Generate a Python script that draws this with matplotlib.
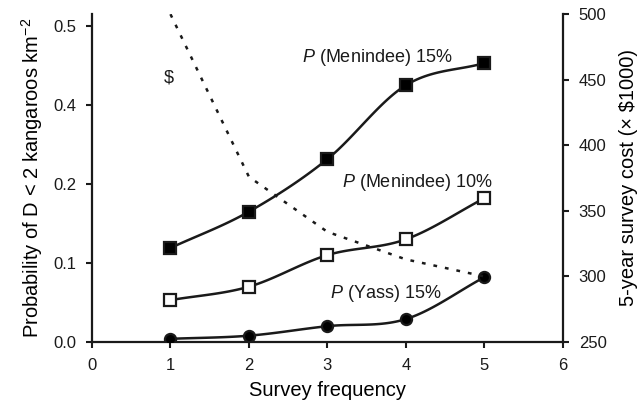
import numpy as np
import matplotlib
matplotlib.use("Agg")
import matplotlib.pyplot as plt

plt.rcParams['font.family'] = ['Liberation Sans', 'DejaVu Sans']
plt.rcParams['mathtext.fontset'] = 'custom'
plt.rcParams['mathtext.rm'] = 'Liberation Sans'
plt.rcParams['mathtext.it'] = 'Liberation Sans:italic'

# ---- data ----
survey_freq = [1, 2, 3, 4, 5]
p_menindee_15 = [0.119, 0.165, 0.263, 0.425, 0.453]
p_menindee_10 = [0.053, 0.070, 0.110, 0.130, 0.182]
p_yass_15 = [0.004, 0.008, 0.020, 0.029, 0.082]
cost = [500, 376, 334, 313, 300]

left_ticks = [0.0, 0.1, 0.2, 0.4, 0.5]
left_tick_labels = ["0.0", "0.1", "0.2", "0.4", "0.5"]
right_ticks = [250, 300, 350, 400, 450, 500]
x_ticks = [0, 1, 2, 3, 4, 5, 6]

# piecewise-linear left scale: tick labels equally spaced as in the original figure
_bv = np.array([-1.0] + left_ticks + [1.0])
_bp = np.array([-10.0, 0, 1, 2, 3, 4, 9])


def fwd(v):
    return np.interp(v, _bv, _bp)


def inv(p):
    return np.interp(p, _bp, _bv)


def smooth(x, y, n=30):
    x = np.asarray(x, float)
    y = np.asarray(y, float)
    m = np.zeros_like(y)
    m[1:-1] = (y[2:] - y[:-2]) / (x[2:] - x[:-2])
    m[0] = (y[1] - y[0]) / (x[1] - x[0])
    m[-1] = (y[-1] - y[-2]) / (x[-1] - x[-2])
    xs, ys = [], []
    for i in range(len(x) - 1):
        h = x[i + 1] - x[i]
        t = np.linspace(0, 1, n, endpoint=(i == len(x) - 2))
        h00 = 2 * t**3 - 3 * t**2 + 1
        h10 = t**3 - 2 * t**2 + t
        h01 = -2 * t**3 + 3 * t**2
        h11 = t**3 - t**2
        xs.append(x[i] + t * h)
        ys.append(h00 * y[i] + h10 * h * m[i] + h01 * y[i + 1] + h11 * h * m[i + 1])
    return np.concatenate(xs), np.concatenate(ys)


fig = plt.figure(figsize=(6.41, 4.04), dpi=100)
ax = fig.add_axes([0.1435, 0.1535, 0.7345, 0.813])
ax.set_yscale('function', functions=(fwd, inv))
ax2 = ax.twinx()

lw = 1.8
for vals, mk, mfc, ms in [(p_menindee_15, 's', 'black', 9),
                          (p_menindee_10, 's', 'white', 8.5),
                          (p_yass_15, 'o', 'black', 8)]:
    sx, sp = smooth(survey_freq, fwd(np.array(vals)))
    ax.plot(sx, inv(sp), color='#1a1a1a', lw=lw, zorder=3)
    ax.plot(survey_freq, vals, linestyle='none', marker=mk, markersize=ms,
            markerfacecolor=mfc, markeredgecolor='#1a1a1a', markeredgewidth=1.6, zorder=4)

ax2.plot(survey_freq, cost, color='#1a1a1a', lw=1.8, linestyle=(0, (1.5, 3.2)), zorder=2)

ax.set_xlim(0, 6)
ax.set_ylim(0, inv(4.158))
ax2.set_ylim(250, 500.5)

ax.set_xticks(x_ticks)
ax.set_yticks(left_ticks)
ax.set_yticklabels(left_tick_labels)
ax.yaxis.set_minor_locator(matplotlib.ticker.NullLocator())
ax2.set_yticks(right_ticks)

for a in (ax, ax2):
    a.tick_params(direction='out', length=4.5, width=1.5, labelsize=12, pad=7, colors='#1a1a1a')
    a.spines['top'].set_visible(False)
    for s in a.spines.values():
        s.set_linewidth(1.6)
        s.set_color('#1a1a1a')
ax.spines['right'].set_visible(False)
ax2.spines['left'].set_visible(False)
ax2.spines['bottom'].set_visible(False)

ax.set_xlabel("Survey frequency", fontsize=14.5, labelpad=6)
ax.set_ylabel("Probability of D < 2 kangaroos km$^{-2}$", fontsize=14.5, labelpad=6)
ax2.set_ylabel("5-year survey cost (× \\$1000)", fontsize=14.5, labelpad=9)

tk = dict(fontsize=13, va='center', ha='left', color='#1a1a1a')
ax.text(2.675, 0.460, "$\\mathit{P}$ (Menindee) 15%", **tk)
ax.text(3.185, 0.203, "$\\mathit{P}$ (Menindee) 10%", **tk)
ax.text(3.03, 0.062, "$\\mathit{P}$ (Yass) 15%", **tk)
ax.text(0.98, 0.434, "\\$", fontsize=13, va='center', ha='center', color='#1a1a1a')

fig.savefig("out.png", dpi=100)
